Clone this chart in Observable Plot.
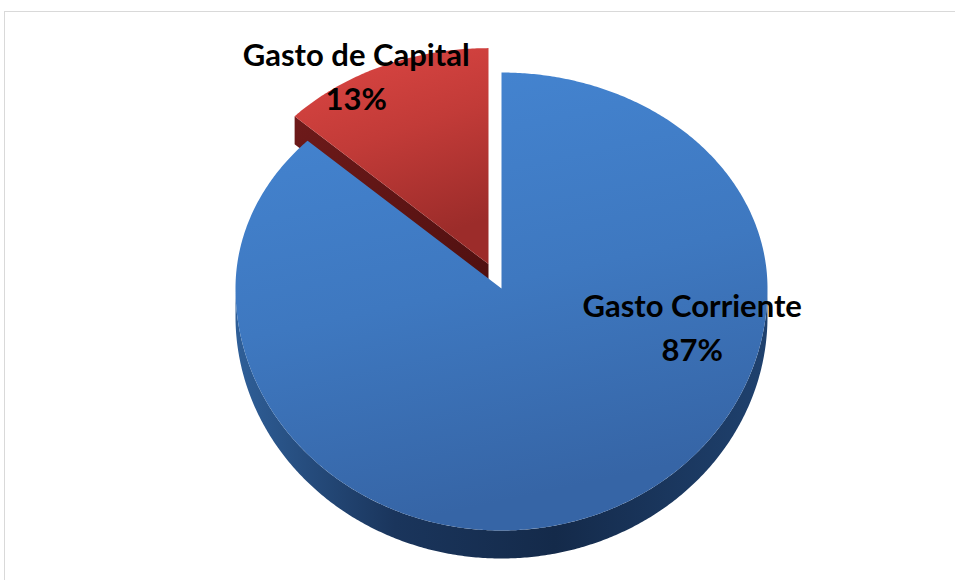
<!DOCTYPE html>
<html><head><meta charset="utf-8">
<script src="https://cdn.jsdelivr.net/npm/d3@7"></script>
<script src="https://cdn.jsdelivr.net/npm/@observablehq/plot@0.6"></script>
<style>body{margin:0;background:#fff}</style>
</head><body><div id="chart"></div>
<script>
// ---- data ----
const categories = ["Gasto Corriente", "Gasto de Capital"];
const values = [87, 13];
const percentLabels = ["87%", "13%"];

// ---- geometry of the 3-D pie (unit = horizontal radius) ----
const TOP = 216 / 266, BOT = 242 / 266, DEPTH = 28 / 266;
const explode = [0, 0.123];
const labelAngle = [102 * Math.PI / 180, -29.5 * Math.PI / 180];
const labelRadius = [0.733, 1.01];

const arcs = d3.pie().sort(null)(values);
function proj(theta, r, off, depth) {
  const c = Math.cos(theta), s = Math.sin(theta);
  return {x: off.x + r * s, y: off.y - r * c * (c > 0 ? TOP : BOT) + depth};
}
const offsets = arcs.map((a, i) => {
  const mid = (a.startAngle + a.endAngle) / 2;
  return {x: explode[i] * Math.sin(mid), y: -explode[i] * Math.cos(mid) * TOP};
});
function arcPts(a0, a1, off, depth) {
  const n = Math.max(2, Math.ceil(Math.abs(a1 - a0) / (Math.PI / 360)));
  return d3.range(n + 1).map(k => proj(a0 + (a1 - a0) * k / n, 1, off, depth));
}
function topFace(i) {
  const a = arcs[i], off = offsets[i];
  return [proj(0, 0, off, 0), ...arcPts(a.startAngle, a.endAngle, off, 0)];
}
function frontSide(i) {
  const a = arcs[i], off = offsets[i];
  const s = Math.max(a.startAngle, Math.PI / 2), e = Math.min(a.endAngle, 3 * Math.PI / 2);
  if (e <= s) return [];
  return [...arcPts(s, e, off, 0), ...arcPts(e, s, off, DEPTH)];
}
function radialSide(i, theta) {
  const off = offsets[i];
  return [proj(0, 0, off, 0), proj(theta, 1, off, 0), proj(theta, 1, off, DEPTH), proj(0, 0, off, DEPTH)];
}

const labels = arcs.map((a, i) => {
  const p = proj(labelAngle[i], labelRadius[i], offsets[i], 0);
  return {x: p.x, y: p.y, text: categories[i] + "\n" + percentLabels[i]};
});

const plot = Plot.plot({
  width: 955, height: 580, margin: 0,
  x: {domain: [-501 / 266, 454 / 266], axis: null},
  y: {domain: [-288 / 266, 292 / 266], range: [0, 580], axis: null},
  marks: [
    Plot.frame({stroke: "#d9d9d9", insetTop: 11, insetLeft: 4, insetRight: -4, insetBottom: -4}),
    Plot.line(radialSide(1, arcs[1].startAngle), {x: "x", y: "y", fill: "url(#redSide)", stroke: "none"}),
    Plot.line(topFace(1), {x: "x", y: "y", fill: "url(#redTop)", stroke: "none"}),
    Plot.line(frontSide(0), {x: "x", y: "y", fill: "url(#blueSide)", stroke: "none"}),
    Plot.line(topFace(0), {x: "x", y: "y", fill: "url(#blueTop)", stroke: "none"}),
    Plot.text(labels, {x: "x", y: "y", text: "text", fontSize: 31, fontWeight: "bold",
      fontFamily: "Lato", lineHeight: 1.42, fill: "black"})
  ]
});
plot.insertAdjacentHTML("afterbegin", `<defs>
 <linearGradient id="blueTop" x1="0" y1="0" x2="0.25" y2="1">
  <stop offset="0" stop-color="#4586d3"/><stop offset="0.55" stop-color="#3e78c0"/><stop offset="1" stop-color="#3665a6"/>
 </linearGradient>
 <linearGradient id="blueSide" x1="0" y1="0" x2="1" y2="0">
  <stop offset="0" stop-color="#2f5f98"/><stop offset="0.3" stop-color="#1a355c"/><stop offset="0.6" stop-color="#142a4a"/><stop offset="1" stop-color="#1f416e"/>
 </linearGradient>
 <linearGradient id="redTop" x1="0" y1="0" x2="0.3" y2="1">
  <stop offset="0" stop-color="#de4744"/><stop offset="0.5" stop-color="#c23b38"/><stop offset="1" stop-color="#9c2c2a"/>
 </linearGradient>
 <linearGradient id="redSide" x1="0" y1="0" x2="1" y2="1">
  <stop offset="0" stop-color="#6e1a1a"/><stop offset="1" stop-color="#4f1010"/>
 </linearGradient>
</defs>`);
document.getElementById("chart").appendChild(plot);
</script>
</body></html>
